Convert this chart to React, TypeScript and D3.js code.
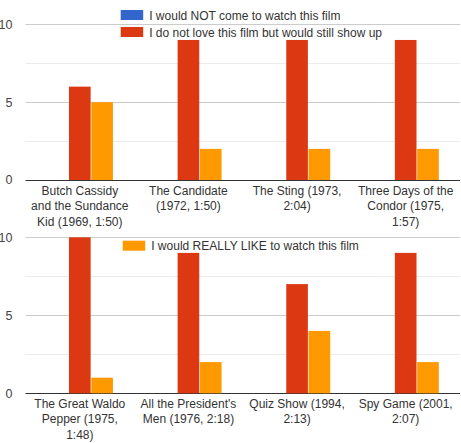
import * as d3 from "d3"

// Datos: dos paneles de cuatro películas cada uno
const series = [
  "I would NOT come to watch this film",
  "I do not love this film but would still show up",
  "I would REALLY LIKE to watch this film",
]
const colores = ["#3366cc", "#dc3912", "#ff9900"]

const peliculasArriba = [
  ["Butch Cassidy", "and the Sundance", "Kid (1969, 1:50)"],
  ["The Candidate", "(1972, 1:50)"],
  ["The Sting (1973,", "2:04)"],
  ["Three Days of the", "Condor (1975,", "1:57)"],
]
const noArriba = [0, 0, 0, 0]
const noAmoArriba = [6, 9, 9, 9]
const meGustaArriba = [5, 2, 2, 2]

const peliculasAbajo = [
  ["The Great Waldo", "Pepper (1975,", "1:48)"],
  ["All the President's", "Men (1976, 2:18)"],
  ["Quiz Show (1994,", "2:13)"],
  ["Spy Game (2001,", "2:07)"],
]
const noAbajo = [0, 0, 0, 0]
const noAmoAbajo = [10, 9, 7, 9]
const meGustaAbajo = [1, 2, 4, 2]

const ticksY = [0, 2.5, 5, 7.5, 10]
const etiquetasY = [0, 5, 10]

const fuente = "Arial, 'Liberation Sans', sans-serif"

function Panel({ etiquetas, valores, yBase, yTop }: { etiquetas: string[][]; valores: number[][]; yBase: number; yTop: number }) {
  const nombres = etiquetas.map((e) => e.join(" "))
  const x0 = d3.scaleBand().domain(nombres).range([25.5, 460]).paddingInner(0.39).paddingOuter(0.195)
  const x1 = d3.scaleBand().domain(series).range([0, x0.bandwidth()]).paddingInner(0.03)
  const y = d3.scaleLinear().domain([0, 10]).range([yBase, yTop])

  return (
    <g>
      {ticksY.map((t) => (
        <line key={t} x1={25.5} x2={460} y1={Math.round(y(t)) + 0.5} y2={Math.round(y(t)) + 0.5}
          stroke={t === 0 ? "#333" : t % 5 === 0 ? "#cccccc" : "#ebebeb"} strokeWidth={1} />
      ))}
      {etiquetasY.map((t) => (
        <text key={t} x={12.5} y={y(t)} dy="0.35em" textAnchor="end" fontSize={12.5} fill="#444" fontFamily={fuente}>
          {t}
        </text>
      ))}
      {nombres.map((n, i) => (
        <g key={n} transform={`translate(${x0(n)},0)`}>
          {series.map((s, j) => {
            const v = valores[j][i]
            return (
              <rect key={s} x={x1(s)} y={y(v)} width={x1.bandwidth()} height={y(0) - y(v)} fill={colores[j]} />
            )
          })}
        </g>
      ))}
      {etiquetas.map((lineas, i) => (
        <text key={i} x={(x0(nombres[i]) || 0) + x0.bandwidth() / 2} y={yBase + 14.5} textAnchor="middle"
          fontSize={12} fill="#333" fontFamily={fuente}>
          {lineas.map((l, k) => (
            <tspan key={k} x={(x0(nombres[i]) || 0) + x0.bandwidth() / 2} dy={k === 0 ? 0 : 15.5}>
              {l}
            </tspan>
          ))}
        </text>
      ))}
    </g>
  )
}

function Leyenda({ x, y, indices }: { x: number; y: number; indices: number[] }) {
  return (
    <g transform={`translate(${x},${y})`}>
      {indices.map((idx, k) => (
        <g key={idx} transform={`translate(0,${k * 17})`}>
          <rect x={0} y={0} width={22.5} height={10} fill={colores[idx]} />
          <text x={28.5} y={9.5} fontSize={12} fill="#333" fontFamily={fuente}>
            {series[idx]}
          </text>
        </g>
      ))}
    </g>
  )
}

export default function App() {
  return (
    <svg width={461} height={443} style={{ position: "absolute", left: 0, top: 0, background: "#fff" }}>
      <rect width={461} height={443} fill="#fff" />
      <Panel etiquetas={peliculasArriba} valores={[noArriba, noAmoArriba, meGustaArriba]} yBase={180} yTop={24.4} />
      <Panel etiquetas={peliculasAbajo} valores={[noAbajo, noAmoAbajo, meGustaAbajo]} yBase={393.3} yTop={237.3} />
      <Leyenda x={120.7} y={10} indices={[0, 1]} />
      <Leyenda x={122.7} y={240.7} indices={[2]} />
    </svg>
  )
}
